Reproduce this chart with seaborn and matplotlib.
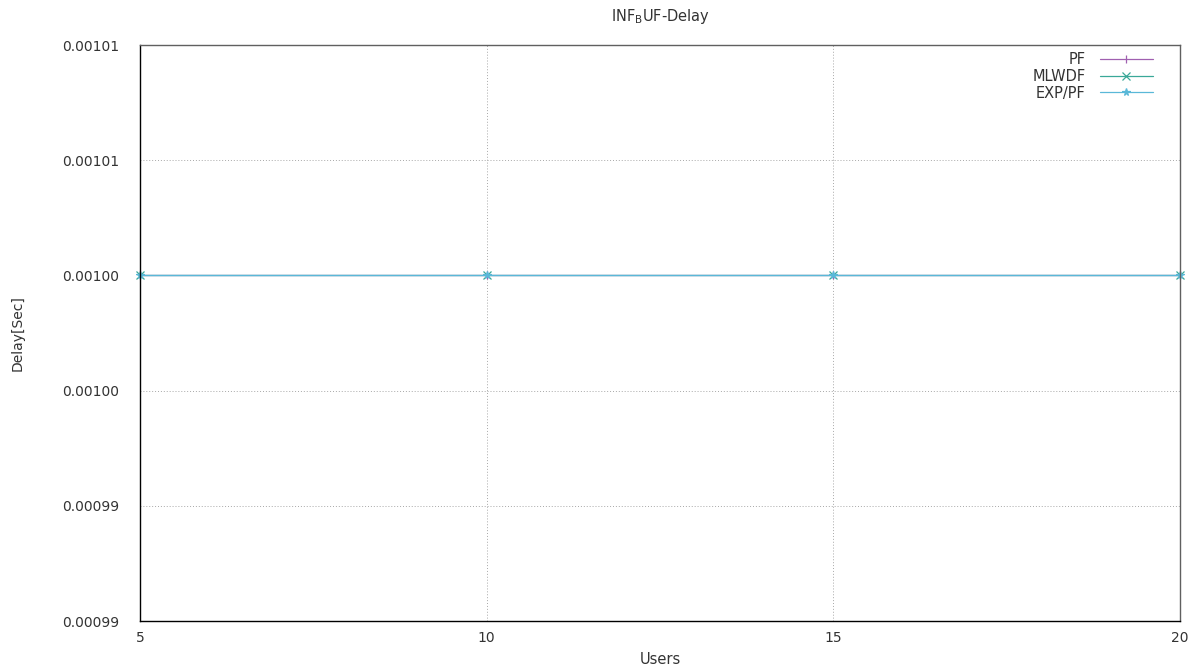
import matplotlib
matplotlib.use("Agg")
import matplotlib.pyplot as plt
import seaborn as sns
import pandas as pd

# data
users = [5, 10, 15, 20]
pf_delay = [0.001, 0.001, 0.001, 0.001]
mlwdf_delay = [0.001, 0.001, 0.001, 0.001]
exppf_delay = [0.001, 0.001, 0.001, 0.001]

series_names = ["PF", "MLWDF", "EXP/PF"]
series_values = [pf_delay, mlwdf_delay, exppf_delay]

y_ticks = [0.000985, 0.00099, 0.000995, 0.001, 0.001005, 0.00101]
y_tick_labels = ["0.00099", "0.00099", "0.00100", "0.00100", "0.00101", "0.00101"]
x_ticks = [5, 10, 15, 20]

# gnuplot-like look (colours as they appear in the picture)
COLORS = ["#a060b0", "#3aa898", "#5ab8d8"]
MARKERS = ["|", "x", "*"]

sns.set_theme(style="white")
plt.rcParams.update({
    'font.family': ['DejaVu Sans'],
    'axes.edgecolor': 'black',
    'axes.linewidth': 1.0,
})

fig = plt.figure(figsize=(11.93, 6.70), dpi=100)
ax = fig.add_axes([140 / 1193, 1 - 621 / 670, (1180 - 140) / 1193, (621 - 45) / 670])

for name, vals, col, mk in zip(series_names, series_values, COLORS, MARKERS):
    df = pd.DataFrame({"Users": users, "Delay": vals})
    sns.lineplot(data=df, x="Users", y="Delay", ax=ax, color=col, marker=mk,
                 markersize=5.5, markeredgewidth=0.9, markeredgecolor=col,
                 linewidth=0.9, label=name, clip_on=False)

ax.set_xlim(5, 20)
ax.set_ylim(0.000985, 0.00101)
ax.set_xticks(x_ticks)
ax.set_xticklabels([str(v) for v in x_ticks])
ax.set_yticks(y_ticks)
ax.set_yticklabels(y_tick_labels)

ax.grid(True, color="#a8a8a8", linestyle=(0, (1, 2)), linewidth=0.7)
ax.tick_params(axis="both", length=0, labelsize=10, labelcolor="#333333")
ax.tick_params(axis="y", pad=15)
ax.tick_params(axis="x", pad=7)

for side in ["top", "right"]:
    ax.spines[side].set_color("#606060")

ax.set_title(r"INF$_{\mathrm{B}}$UF-Delay", fontsize=10.5, color="#333333", pad=17)
ax.set_xlabel("Users", fontsize=10.5, color="#333333", labelpad=5)
ax.set_ylabel("Delay[Sec]", fontsize=10, color="#333333", labelpad=27)

leg = ax.legend(loc="upper right", frameon=False, markerfirst=False,
                fontsize=10.5, handlelength=3.6, labelspacing=0.12,
                bbox_to_anchor=(0.982, 1.003), borderaxespad=0.2, handletextpad=1.0)
for t in leg.get_texts():
    t.set_ha("right")
    t.set_color("#333333")

fig.savefig("out.png", dpi=100)
